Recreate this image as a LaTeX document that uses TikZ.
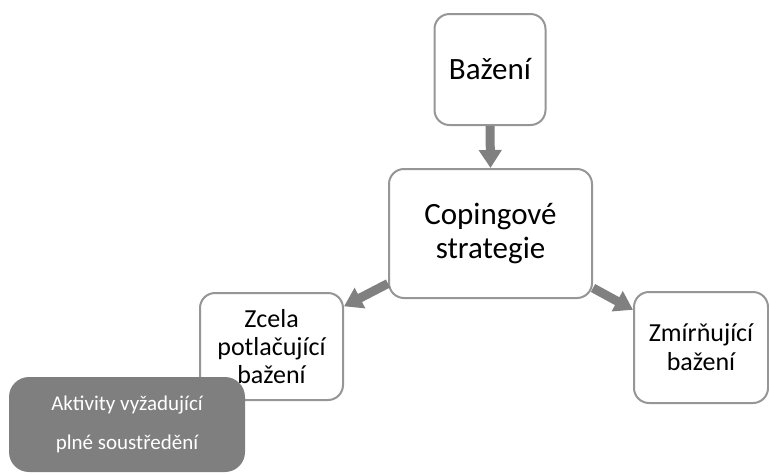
\documentclass[tikz,border=0pt]{standalone}
\usepackage{fontspec}
\setmainfont{Carlito}
\usetikzlibrary{arrows.meta}
\definecolor{boxline}{RGB}{150,150,150}
\definecolor{arrowgray}{RGB}{128,128,128}
\definecolor{darkbox}{RGB}{127,127,127}
\begin{document}
\begin{tikzpicture}[x=1pt,y=-1pt,
    box/.style={draw=boxline,line width=2pt,fill=white,rounded corners=15pt,
      align=center,inner sep=0pt},
    arr/.style={-{Triangle[width=22pt,length=18pt]},draw=arrowgray,line width=9pt}]
  \useasboundingbox (0,0) rectangle (769,475);
  \draw
    (490,69.5) node[box,minimum width=111pt,minimum height=111pt,
      font=\fontsize{31}{34}\selectfont] (bazeni){Bažení}
    (490.5,233.5) node[box,minimum width=203pt,minimum height=129pt,
      font=\fontsize{31}{34}\selectfont] (coping){Copingové\\strategie}
    (271.5,346.5) node[box,minimum width=143pt,minimum height=107pt,
      font=\fontsize{26}{28}\selectfont] (zcela){Zcela\\potlačující\\bažení}
    (701,347.5) node[box,minimum width=134pt,minimum height=111pt,
      font=\fontsize{26}{29}\selectfont] (zmir){Zmírňující\\bažení}
    (127,424.5) node[fill=darkbox,rounded corners=20pt,minimum width=236pt,
      minimum height=95pt,inner sep=0pt,align=center,text=white,
      font=\fontsize{21}{39}\selectfont] (aktivity){Aktivity vyžadující\\plné soustředění};
  \begin{scope}[arr]
    \draw (bazeni.south) to (coping.north);
    \draw (coping.206) to (zcela.29);
    \draw (coping.-28) to (zmir.151);
  \end{scope}
\end{tikzpicture}
\end{document}
